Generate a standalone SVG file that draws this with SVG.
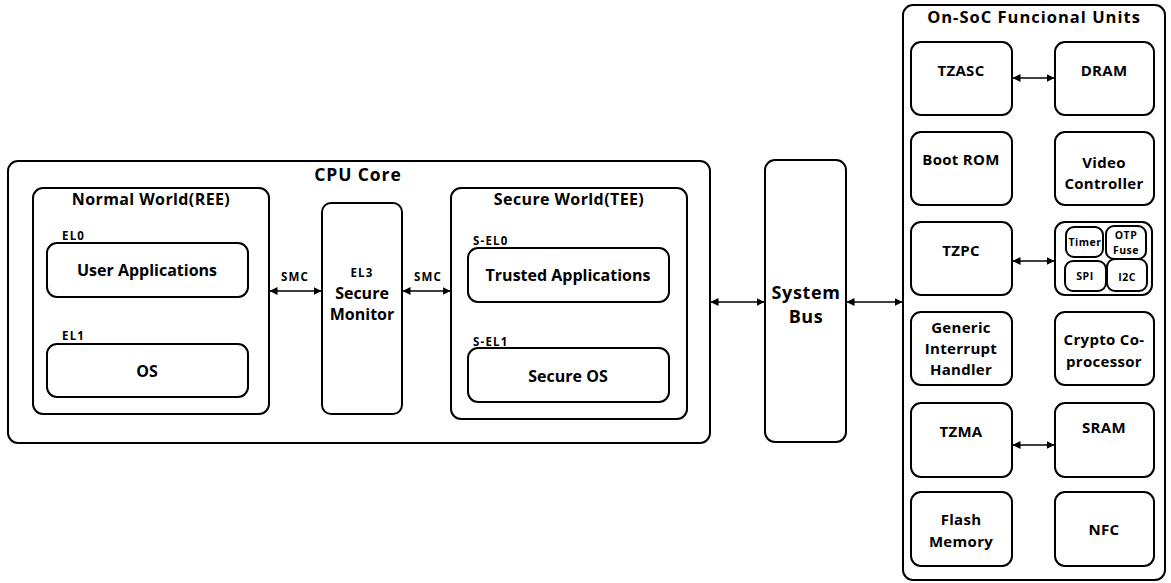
<svg xmlns="http://www.w3.org/2000/svg" width="1171" height="583" viewBox="0 0 1171 583">
  <style>
    .box { fill: #ffffff; stroke: #000000; stroke-width: 2; }
    .t { font-family: "Open Sans", "Noto Sans", "Liberation Sans", sans-serif; font-weight: bold; fill: #000000; }
    .title { font-size: 17.5px; letter-spacing: 0.9px; text-anchor: middle; }
    .bus { font-size: 18px; letter-spacing: 0.6px; text-anchor: middle; }
    .sub { font-size: 16px; letter-spacing: 0.4px; text-anchor: middle; }
    .head { font-size: 16.5px; letter-spacing: 1px; text-anchor: middle; }
    .lbl { font-size: 16px; text-anchor: middle; }
    .unit { font-size: 15px; letter-spacing: 0.3px; text-anchor: middle; }
    .el { font-size: 11.5px; letter-spacing: 1.2px; }
    .tiny { font-size: 10.5px; letter-spacing: 0.5px; text-anchor: middle; }
    .link { stroke: #000000; stroke-width: 1.6; fill: none; marker-start: url(#head); marker-end: url(#head); }
  </style>
  <defs>
    <marker id="head" viewBox="0 0 8 8" refX="7.5" refY="4" markerWidth="8" markerHeight="8" markerUnits="userSpaceOnUse" orient="auto-start-reverse">
      <path d="M0,0 L8,4 L0,8 Z" fill="#000000"/>
    </marker>
  </defs>
  <rect width="1171" height="583" fill="#ffffff"/>

  <!-- CPU core with its two worlds and the monitor -->
  <g id="cpu-core">
    <rect class="box" x="8" y="161" width="702" height="282" rx="10"/>
    <text class="t title" x="358" y="181">CPU Core</text>
  </g>
  <g id="normal-world">
    <rect class="box" x="33" y="188" width="236" height="226" rx="10"/>
    <text class="t sub" x="151" y="205">Normal World(REE)</text>
  </g>
  <g id="user-apps">
    <text class="t el" x="62" y="240">EL0</text>
    <rect class="box" x="47" y="243" width="201" height="54" rx="10"/>
    <text class="t lbl" x="147" y="276">User Applications</text>
  </g>
  <g id="os">
    <text class="t el" x="62" y="340">EL1</text>
    <rect class="box" x="47" y="344" width="201" height="53" rx="10"/>
    <text class="t lbl" x="147" y="377">OS</text>
  </g>
  <g id="secure-monitor">
    <rect class="box" x="322" y="203" width="80" height="211" rx="9"/>
    <text class="t el" x="362" y="277" text-anchor="middle">EL3</text>
    <text class="t lbl" x="362" y="299">Secure</text>
    <text class="t lbl" x="362" y="320">Monitor</text>
  </g>
  <g id="secure-world">
    <rect class="box" x="451" y="188" width="236" height="231" rx="10"/>
    <text class="t sub" x="569" y="205">Secure World(TEE)</text>
  </g>
  <g id="trusted-apps">
    <text class="t el" x="473" y="245">S-EL0</text>
    <rect class="box" x="468" y="248" width="201" height="54" rx="10"/>
    <text class="t lbl" x="568" y="281">Trusted Applications</text>
  </g>
  <g id="secure-os">
    <text class="t el" x="473" y="346">S-EL1</text>
    <rect class="box" x="468" y="348" width="201" height="54" rx="10"/>
    <text class="t lbl" x="568" y="382">Secure OS</text>
  </g>

  <!-- shared bus -->
  <g id="system-bus">
    <rect class="box" x="765" y="160" width="81" height="282" rx="10"/>
    <text class="t bus" x="806" y="299">System</text>
    <text class="t bus" x="806" y="323">Bus</text>
  </g>

  <!-- on-chip units -->
  <g id="soc-units">
    <rect class="box" x="903" y="5" width="262" height="575" rx="10"/>
    <text class="t head" x="1034" y="23">On-SoC Funcional Units</text>
  </g>
  <g id="tzasc">
    <rect class="box" x="911" y="42" width="101" height="73" rx="10"/>
    <text class="t unit" x="961" y="76">TZASC</text>
  </g>
  <g id="dram">
    <rect class="box" x="1055" y="42" width="99" height="73" rx="10"/>
    <text class="t unit" x="1104" y="76">DRAM</text>
  </g>
  <g id="boot-rom">
    <rect class="box" x="911" y="132" width="101" height="73" rx="10"/>
    <text class="t unit" x="961" y="165">Boot ROM</text>
  </g>
  <g id="video-controller">
    <rect class="box" x="1055" y="132" width="99" height="73" rx="10"/>
    <text class="t unit" x="1104" y="168">Video</text>
    <text class="t unit" x="1104" y="189">Controller</text>
  </g>
  <g id="tzpc">
    <rect class="box" x="911" y="222" width="101" height="73" rx="10"/>
    <text class="t unit" x="961" y="256">TZPC</text>
  </g>
  <g id="peripherals">
    <rect class="box" x="1055" y="222" width="97" height="73" rx="10"/>
    <rect class="box" x="1066" y="227" width="37" height="30" rx="8"/>
    <text class="t tiny" x="1085" y="246">Timer</text>
    <rect class="box" x="1106" y="226" width="40" height="33" rx="8"/>
    <text class="t tiny" x="1126" y="239">OTP</text>
    <text class="t tiny" x="1126" y="254">Fuse</text>
    <rect class="box" x="1065" y="261" width="41" height="30" rx="8"/>
    <text class="t tiny" x="1085" y="280">SPI</text>
    <rect class="box" x="1107" y="259" width="40" height="32" rx="8"/>
    <text class="t tiny" x="1127" y="281">I2C</text>
  </g>
  <g id="gic">
    <rect class="box" x="911" y="312" width="101" height="73" rx="10"/>
    <text class="t unit" x="961" y="333">Generic</text>
    <text class="t unit" x="961" y="354">Interrupt</text>
    <text class="t unit" x="961" y="375">Handler</text>
  </g>
  <g id="crypto">
    <rect class="box" x="1055" y="312" width="99" height="73" rx="10"/>
    <text class="t unit" x="1104" y="345">Crypto Co-</text>
    <text class="t unit" x="1104" y="367">processor</text>
  </g>
  <g id="tzma">
    <rect class="box" x="911" y="403" width="101" height="74" rx="10"/>
    <text class="t unit" x="961" y="437">TZMA</text>
  </g>
  <g id="sram">
    <rect class="box" x="1055" y="403" width="99" height="74" rx="10"/>
    <text class="t unit" x="1104" y="433">SRAM</text>
  </g>
  <g id="flash">
    <rect class="box" x="911" y="492" width="101" height="74" rx="10"/>
    <text class="t unit" x="961" y="525">Flash</text>
    <text class="t unit" x="961" y="547">Memory</text>
  </g>
  <g id="nfc">
    <rect class="box" x="1055" y="492" width="99" height="74" rx="10"/>
    <text class="t unit" x="1104" y="535">NFC</text>
  </g>

  <!-- two-way links -->
  <g id="connectors">
    <line class="link" x1="270" y1="291" x2="321" y2="291"/>
    <text class="t el" x="295" y="281" text-anchor="middle">SMC</text>
    <line class="link" x1="403" y1="291" x2="450" y2="291"/>
    <text class="t el" x="428" y="281" text-anchor="middle">SMC</text>
    <line class="link" x1="711" y1="302" x2="764" y2="302"/>
    <line class="link" x1="847" y1="302" x2="902" y2="302"/>
    <line class="link" x1="1013" y1="78" x2="1054" y2="78"/>
    <line class="link" x1="1013" y1="261" x2="1054" y2="261"/>
    <line class="link" x1="1013" y1="445" x2="1054" y2="445"/>
  </g>
</svg>
